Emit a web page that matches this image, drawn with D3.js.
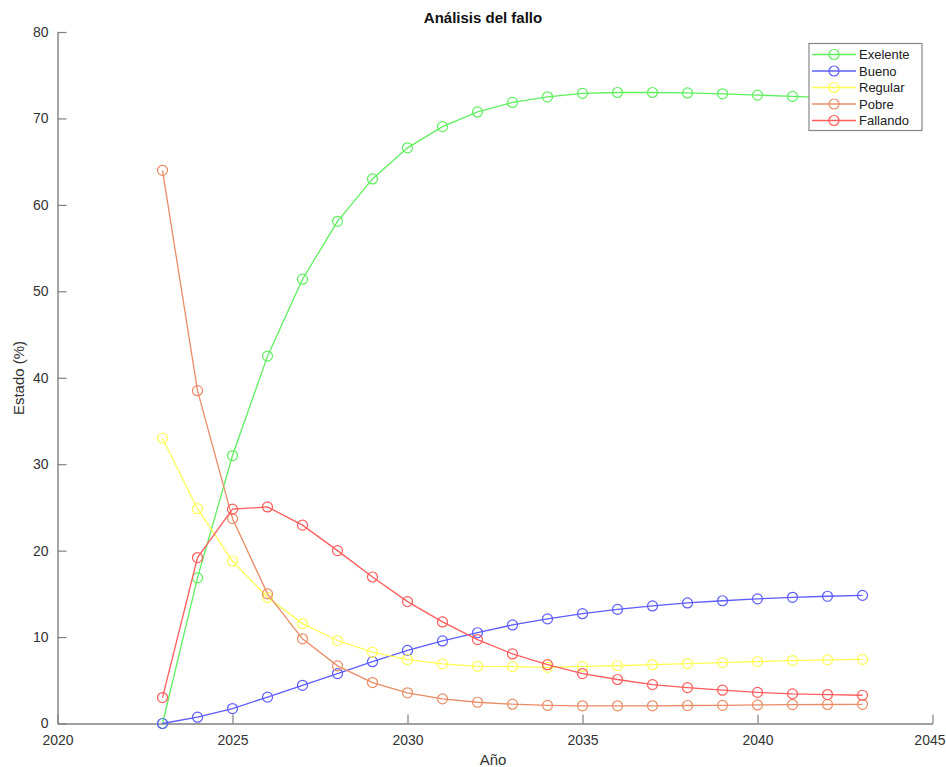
<!DOCTYPE html>
<html>
<head>
<meta charset="utf-8">
<script src="https://cdn.jsdelivr.net/npm/d3@7"></script>
<style>
  html, body { margin: 0; padding: 0; background: #fff; }
  svg { display: block; font-family: "Liberation Sans", Arial, Helvetica, sans-serif; }
</style>
</head>
<body>
<svg id="chart" width="946" height="767"></svg>
<script>
const years = [2023,2024,2025,2026,2027,2028,2029,2030,2031,2032,2033,2034,2035,2036,2037,2038,2039,2040,2041,2042,2043];
const exelente = [0,16.85,31.0,42.5,51.4,58.1,63.0,66.6,69.05,70.75,71.85,72.5,72.9,73.0,73.0,72.95,72.85,72.7,72.55,72.4,72.25];
const bueno    = [0,0.73,1.73,3.05,4.42,5.78,7.15,8.45,9.55,10.5,11.4,12.1,12.7,13.2,13.6,13.95,14.2,14.42,14.6,14.72,14.82];
const regular  = [33.0,24.85,18.8,14.6,11.56,9.6,8.25,7.4,6.9,6.62,6.58,6.5,6.6,6.68,6.8,6.92,7.05,7.17,7.28,7.36,7.42];
const pobre    = [64.0,38.5,23.7,15.0,9.8,6.67,4.74,3.55,2.85,2.46,2.23,2.1,2.05,2.05,2.05,2.08,2.1,2.15,2.18,2.2,2.22];
const fallando = [3.0,19.2,24.8,25.05,22.95,20.0,16.95,14.1,11.75,9.7,8.05,6.8,5.78,5.09,4.5,4.15,3.85,3.6,3.43,3.35,3.27];
const seriesNames = ["Exelente","Bueno","Regular","Pobre","Fallando"];
const seriesValues = [exelente,bueno,regular,pobre,fallando];
const seriesColors = ["#5ef05e","#5c5cff","#ffff55","#ea8c66","#ff5c5c"];
const xTicks = [2020,2025,2030,2035,2040,2045];
const yTicks = [0,10,20,30,40,50,60,70,80];

const svg = d3.select("#chart");
const L = 57.5, R = 932.5, T = 32, B = 723.5;
const x = d3.scaleLinear().domain([2020,2045]).range([L,R]);
const y = d3.scaleLinear().domain([0,80]).range([B,T]);

const axisColor = "#808080";
const textColor = "#333";

// axes
const gx = svg.append("g").attr("transform", `translate(0,${B})`)
  .call(d3.axisBottom(x).tickValues(xTicks).tickFormat(d3.format("d")).tickSizeInner(-9).tickSizeOuter(0).tickPadding(10));
const gy = svg.append("g").attr("transform", `translate(${L},0)`)
  .call(d3.axisLeft(y).tickValues(yTicks).tickSizeInner(-9).tickSizeOuter(0).tickPadding(9));
[gx, gy].forEach(g => {
  g.select(".domain").attr("stroke", axisColor).attr("stroke-width", 1.4);
  g.selectAll(".tick line").attr("stroke", axisColor).attr("stroke-width", 1.2);
  g.selectAll(".tick text").attr("fill", textColor).attr("font-size", 14).attr("font-family", "Liberation Sans, Arial, sans-serif");
});
gx.selectAll(".tick text").attr("dy", "0.85em");
// keep last label inside the window
gx.selectAll(".tick").filter(d => d === 2045).select("text")
  .attr("text-anchor", "end").attr("x", 945 - x(2045));

// lines + markers
const line = d3.line().x((d,i) => x(years[i])).y(d => y(d));
seriesValues.forEach((vals, k) => {
  svg.append("path").datum(vals)
    .attr("d", line).attr("fill", "none")
    .attr("stroke", seriesColors[k]).attr("stroke-width", 1.3);
  svg.append("g").selectAll("circle").data(vals).join("circle")
    .attr("cx", (d,i) => x(years[i])).attr("cy", d => y(d)).attr("r", 5)
    .attr("fill", "none").attr("stroke", seriesColors[k]).attr("stroke-width", 1.2);
});

// title & labels
svg.append("text").attr("x", 483).attr("y", 23).attr("text-anchor", "middle")
  .attr("font-weight", "bold").attr("font-size", 15).attr("fill", "#111").text("Análisis del fallo");
svg.append("text").attr("x", 493).attr("y", 765).attr("text-anchor", "middle")
  .attr("font-size", 15).attr("fill", textColor).text("Año");
svg.append("text").attr("transform", "translate(24,378) rotate(-90)").attr("text-anchor", "middle")
  .attr("font-size", 15).attr("fill", textColor).text("Estado (%)");

// legend
const lg = svg.append("g");
lg.append("rect").attr("x", 809).attr("y", 43.5).attr("width", 113).attr("height", 87)
  .attr("fill", "#fff").attr("stroke", "#888").attr("stroke-width", 1.2);
seriesNames.forEach((name, k) => {
  const yy = 54.5 + k * 16.5;
  lg.append("line").attr("x1", 812).attr("x2", 856).attr("y1", yy).attr("y2", yy)
    .attr("stroke", seriesColors[k]).attr("stroke-width", 1.3);
  lg.append("circle").attr("cx", 834).attr("cy", yy).attr("r", 5)
    .attr("fill", "none").attr("stroke", seriesColors[k]).attr("stroke-width", 1.2);
  lg.append("text").attr("x", 859).attr("y", yy).attr("dy", "0.35em")
    .attr("font-size", 13).attr("fill", "#222").text(name);
});
</script>
</body>
</html>
